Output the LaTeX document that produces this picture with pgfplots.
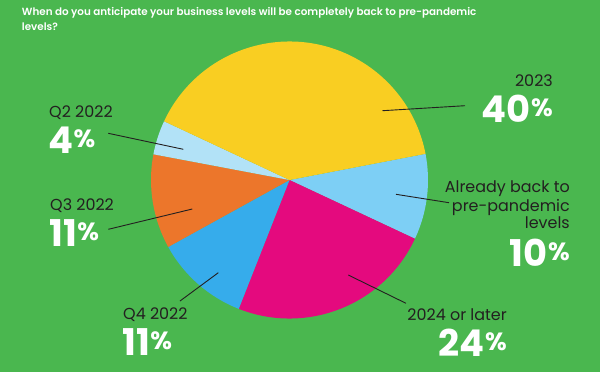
\documentclass[border=0pt]{standalone}
\usepackage{pgfplots}
\usepackage{pgfplotstable}
\pgfplotsset{compat=1.18}
\usepackage{fontspec}
\setmainfont{Poppins}
\newfontfamily\semib{Poppins}[UprightFont=* SemiBold]
\definecolor{bg}{RGB}{74,183,79}
\definecolor{cY}{RGB}{249,206,34}
\definecolor{cA}{RGB}{125,207,245}
\definecolor{cM}{RGB}{228,10,126}
\definecolor{cB}{RGB}{54,172,235}
\definecolor{cO}{RGB}{236,118,43}
\definecolor{cP}{RGB}{178,226,247}
\definecolor{txt}{RGB}{35,31,32}

\pgfplotstableread{
value color
10 cA
24 cM
11 cB
11 cO
4 cP
40 cY
}\piedata

\newcommand{\lab}[1]{{\fontsize{16}{18}\selectfont\color{txt}#1}}
\newcommand{\pct}[1]{{\fontsize{37}{37}\selectfont\bfseries\color{white}#1\kern0.5bp\raisebox{6bp}{\fontsize{25}{25}\selectfont\%}}}

\begin{document}
\begin{tikzpicture}
\begin{axis}[
  x=1bp, y=1bp, y dir=reverse,
  xmin=0, xmax=600, ymin=0, ymax=372,
  axis lines=none, clip=false, scale only axis,
  ticks=none,
]
\addplot[draw=none, fill=bg] coordinates {(0,0) (600,0) (600,372) (0,372)} -- cycle;
\pgfplotsextra{
  \xdef\curang{10.9}
  \foreach \i in {0,...,5} {
    \pgfplotstablegetelem{\i}{value}\of\piedata \let\v\pgfplotsretval
    \pgfplotstablegetelem{\i}{color}\of\piedata \let\c\pgfplotsretval
    \pgfmathsetmacro\endang{\curang-3.6*\v}
    \fill[\c] (axis cs:289.5,180) -- ++(\curang:138.5bp) arc[start angle=\curang, end angle=\endang, radius=138.5bp] -- cycle;
    \xdef\curang{\endang}
  }
}
% title
\node[anchor=base west, inner sep=0pt, text=white] at (axis cs:21.7,15.7) {\semib\fontsize{10.4}{13}\selectfont When do you anticipate your business levels will be completely back to pre-pandemic};
\node[anchor=base west, inner sep=0pt, text=white] at (axis cs:21.7,30.7) {\semib\fontsize{10.4}{13}\selectfont levels?};
% leader lines
\draw[txt, line width=0.9bp] (axis cs:382.5,110.7) -- (axis cs:465,105.7);
\draw[txt, line width=0.9bp] (axis cs:396,194.3) -- (axis cs:449,202.7);
\draw[txt, line width=0.9bp] (axis cs:348.3,275) -- (axis cs:406,303.3);
\draw[txt, line width=0.9bp] (axis cs:108.3,133.3) -- (axis cs:183.3,149.3);
\draw[txt, line width=0.9bp] (axis cs:108.3,229.3) -- (axis cs:192.3,209);
\draw[txt, line width=0.9bp] (axis cs:180,301) -- (axis cs:218.3,272.7);
% labels right
\node[anchor=base east, inner sep=0pt] at (axis cs:553,86.7) {\lab{2023}};
\node[anchor=base east, inner sep=0pt] at (axis cs:553,122) {\pct{40}};
\node[anchor=base east, inner sep=0pt] at (axis cs:570,192.7) {\lab{Already back to}};
\node[anchor=base east, inner sep=0pt] at (axis cs:570,211.2) {\lab{pre-pandemic}};
\node[anchor=base east, inner sep=0pt] at (axis cs:570,228.5) {\lab{levels}};
\node[anchor=base east, inner sep=0pt] at (axis cs:570,266) {\pct{10}};
\node[anchor=base east, inner sep=0pt] at (axis cs:507,320) {\lab{2024 or later}};
\node[anchor=base east, inner sep=0pt] at (axis cs:507,356) {\pct{24}};
% labels left
\node[anchor=base west, inner sep=0pt] at (axis cs:49,117.5) {\lab{Q2 2022}};
\node[anchor=base west, inner sep=0pt] at (axis cs:48,153) {\pct{4}};
\node[anchor=base west, inner sep=0pt] at (axis cs:50,210.5) {\lab{Q3 2022}};
\node[anchor=base west, inner sep=0pt] at (axis cs:49,246) {\pct{11}};
\node[anchor=base west, inner sep=0pt] at (axis cs:123,319.5) {\lab{Q4 2022}};
\node[anchor=base west, inner sep=0pt] at (axis cs:122,355) {\pct{11}};
\end{axis}
\end{tikzpicture}
\end{document}
